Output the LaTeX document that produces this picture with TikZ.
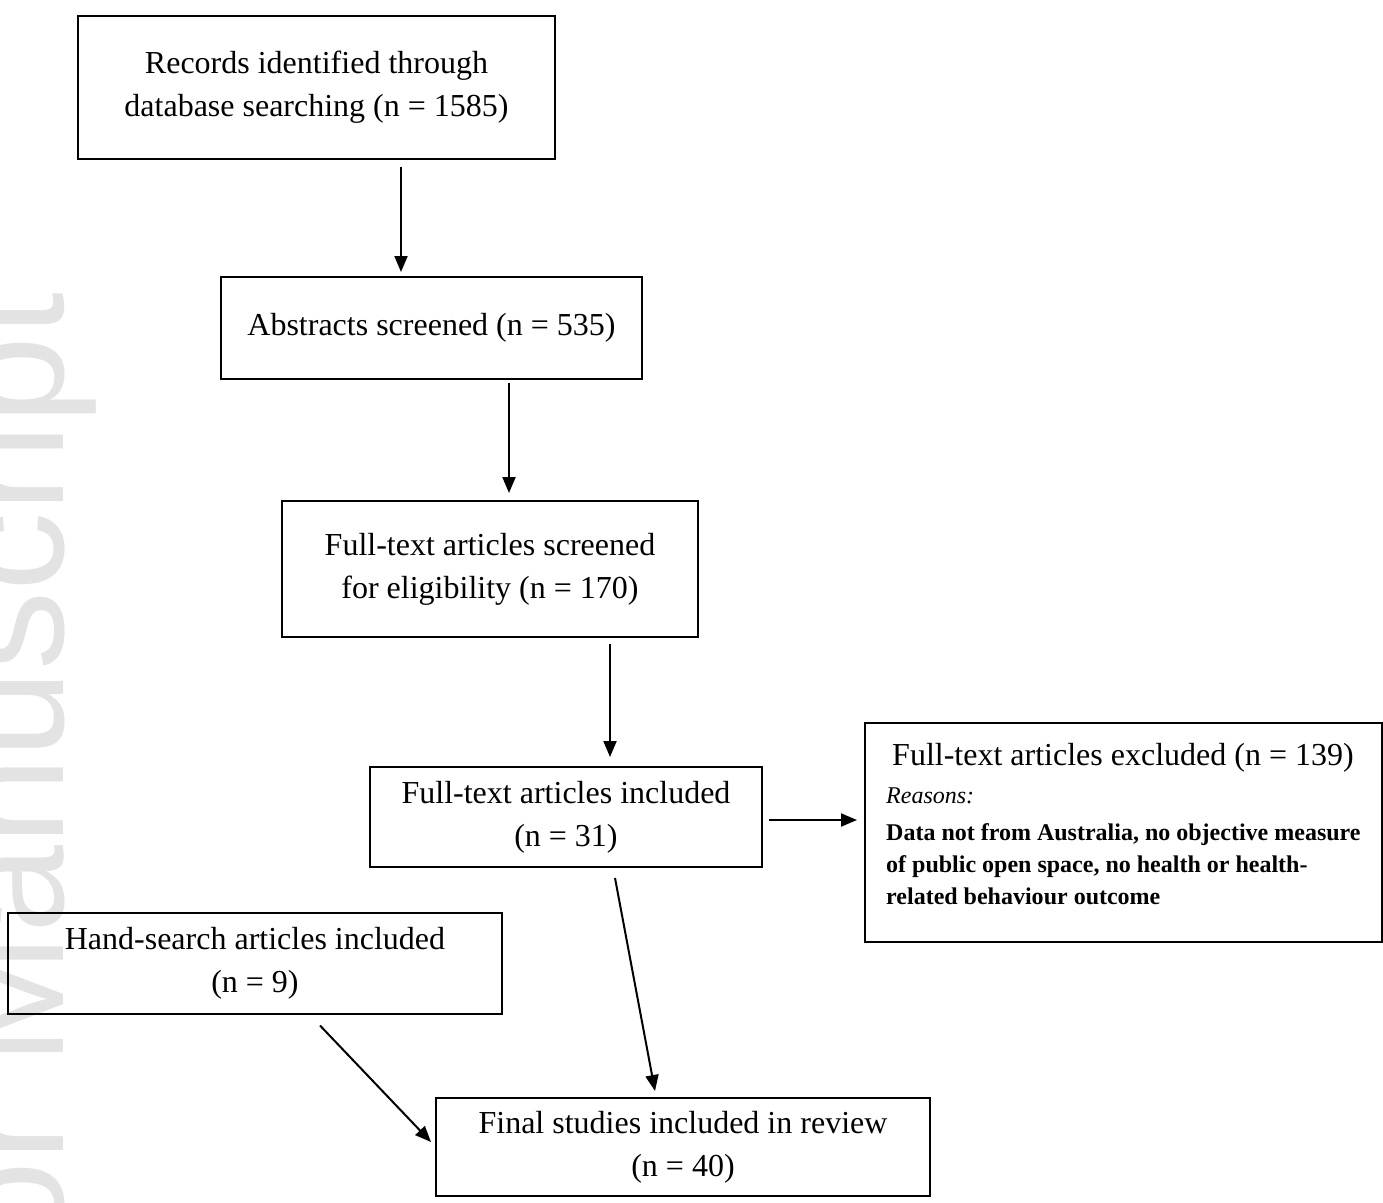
\documentclass[tikz,border=0pt]{standalone}
\usepackage{fontspec}
\setmainfont{Liberation Serif}
\newfontfamily\wmfont{Liberation Sans}
\usetikzlibrary{arrows.meta}

\begin{document}
\begin{tikzpicture}[x=1pt, y=-1pt]
    \tikzstyle{box}=[draw, line width=2pt, align=center, inner sep=0pt, font=\fontsize{32}{43}\selectfont]
    \tikzstyle{arr}=[line width=2pt, -{Triangle[length=16pt, width=13pt]}]
    \useasboundingbox (0,0) rectangle (1383,1202);

    % Watermark on the left edge
    \node[rotate=90, anchor=base east, text=gray!22, font=\wmfont\fontsize{158}{158}\selectfont] (wm) at (63,289) {Author Manuscript};

    % Boxes
    \node[box, minimum width=477, minimum height=143] (rec) at (316.5,87) {Records identified through\\database searching (n = 1585)};
    \node[box, minimum width=421, minimum height=102] (abs) at (431.5,328) {Abstracts screened (n = 535)};
    \node[box, minimum width=416, minimum height=136] (scr) at (490,569) {Full-text articles screened\\for eligibility (n = 170)};
    \node[box, minimum width=392, minimum height=100] (inc) at (566,817) {Full-text articles included\\(n = 31)};
    \node[box, minimum width=517, minimum height=219] (excl) at (1123.5,832.5) {};
    \node[anchor=north west, align=left, inner sep=0pt, font=\fontsize{24}{32}\selectfont] (exclTxt) at ([xshift=22,yshift=-21]excl.north west)
      {{\fontsize{32}{40}\selectfont\hspace*{6pt}Full-text articles excluded (n = 139)}\\[6pt]
       \textit{Reasons:}\\[5pt]
       \textbf{Data not from Australia, no objective measure}\\
       \textbf{of public open space, no health or health-}\\
       \textbf{related behaviour outcome}};
    \node[box, minimum width=494, minimum height=101] (hand) at (255,963) {Hand-search articles included\\(n = 9)};
    \node[box, minimum width=494, minimum height=98] (fin) at (683,1147) {Final studies included in review\\(n = 40)};

    % Arrows
    \draw[arr] ([xshift=84.5,yshift=-7]rec.south) -- ([xshift=-30.5,yshift=4]abs.north);
    \draw[arr] ([xshift=77.5,yshift=-3]abs.south) -- ([xshift=19,yshift=7]scr.north);
    \draw[arr] ([xshift=120,yshift=-6]scr.south) -- ([xshift=44,yshift=9]inc.north);
    \draw[arr] ([xshift=6,yshift=-3]inc.east) -- ([xshift=-7,yshift=12.5]excl.west);
    \draw[arr] ([xshift=49,yshift=-10]inc.south) -- ([xshift=-28,yshift=6]fin.north);
    \draw[arr] ([xshift=65,yshift=-11]hand.south) -- ([xshift=-4,yshift=5]fin.west);
\end{tikzpicture}
\end{document}
